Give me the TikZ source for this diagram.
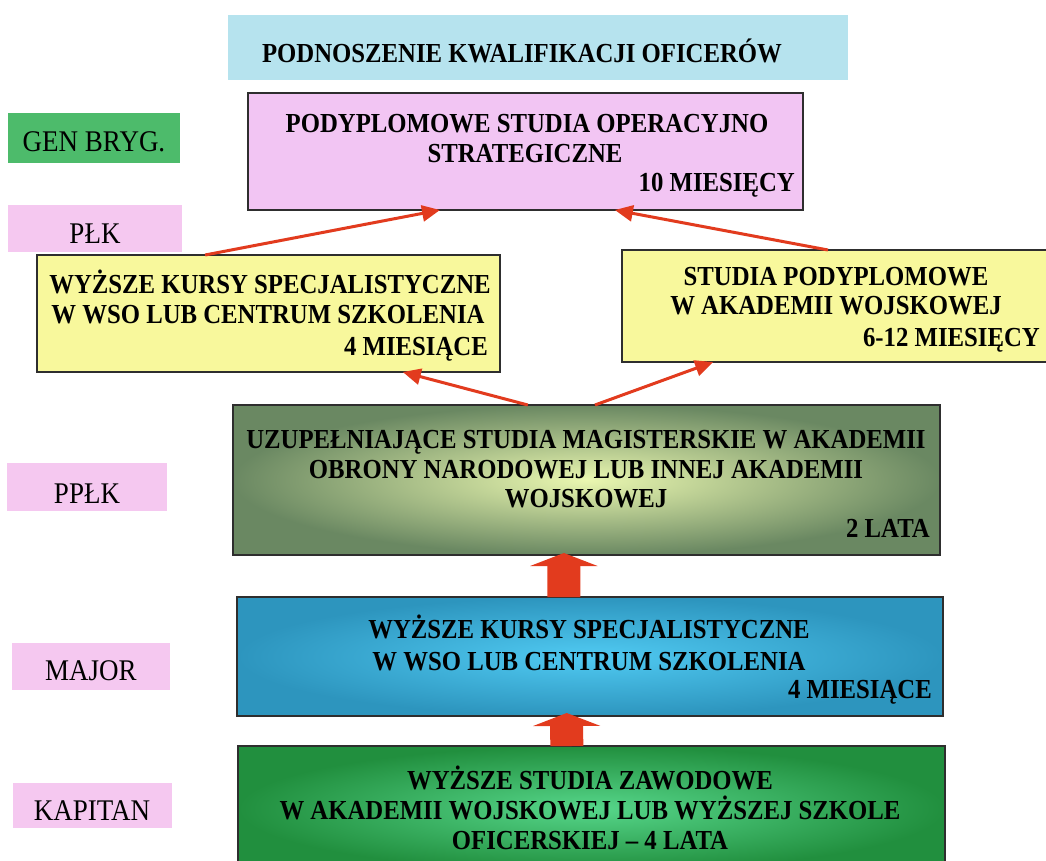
\documentclass[tikz,border=0pt]{standalone}
\usepackage{fontspec}
\setmainfont{Liberation Serif}[FakeStretch=0.9]
\usetikzlibrary{calc,arrows.meta}

\definecolor{titleblue}{HTML}{B6E3EE}
\definecolor{rankgreen}{HTML}{4DBB6B}
\definecolor{rankpink}{HTML}{F5C8F0}
\definecolor{boxpink}{HTML}{F2C5F3}
\definecolor{boxyellow}{HTML}{F8F89C}
\definecolor{ggouter}{HTML}{6A8862}
\definecolor{gginner}{HTML}{EAF7B0}
\definecolor{blueouter}{HTML}{2D95BE}
\definecolor{blueinner}{HTML}{50CAF2}
\definecolor{grnouter}{HTML}{218F3E}
\definecolor{grninner}{HTML}{56D68A}
\definecolor{arrowred}{HTML}{E23B1E}
\definecolor{edge}{HTML}{2E2E2E}

\begin{document}
\begin{tikzpicture}[x=1pt,y=-1pt,
  panel/.style={draw=edge,line width=1.2pt,inner sep=0pt,outer sep=0pt,anchor=north west},
  rank/.style={inner sep=0pt,outer sep=0pt,anchor=north west},
  btxt/.style={font=\fontsize{27.5}{30}\selectfont\bfseries,inner sep=0pt,anchor=base},
  brtxt/.style={btxt,anchor=base east},
  rtxt/.style={font=\fontsize{30}{32}\selectfont,inner sep=0pt,anchor=base},
  thinarrow/.style={draw=arrowred,line width=3pt,-{Triangle[length=18pt,width=16pt]}},
  blockarrow/.style={draw=arrowred,line width=33pt,-{Triangle[length=13pt,width=67pt]}}
]
\useasboundingbox[fill=white] (0,0) rectangle (1046,861);

% title
\node[rank,fill=titleblue,minimum width=620pt,minimum height=65pt] (title) at (228,15) {};
\node[btxt] (titletxt) at (522,63) {PODNOSZENIE KWALIFIKACJI OFICERÓW};

% rank labels
\node[rank,fill=rankgreen,minimum width=172pt,minimum height=50pt] (gen) at (8,113) {};
\node[rtxt] (gentxt) at (94,152) {GEN BRYG.};
\node[rank,fill=rankpink,minimum width=174pt,minimum height=47pt] (plk) at (8,205) {};
\node[rtxt] (plktxt) at (95,243) {PŁK};
\node[rank,fill=rankpink,minimum width=160pt,minimum height=48pt] (pplk) at (7,463) {};
\node[rtxt] (pplktxt) at (87,503) {PPŁK};
\node[rank,fill=rankpink,minimum width=158pt,minimum height=47pt] (major) at (12,643) {};
\node[rtxt] (majortxt) at (91,680) {MAJOR};
\node[rank,fill=rankpink,minimum width=159pt,minimum height=45pt] (kap) at (13,783) {};
\node[rtxt] (kaptxt) at (92,820) {KAPITAN};

% study panels
\node[panel,fill=boxpink,minimum width=555pt,minimum height=117pt] (top) at (248,93) {};
\node[btxt] (top1) at (527,133) {PODYPLOMOWE STUDIA OPERACYJNO};
\node[btxt] (top2) at (525,163) {STRATEGICZNE};
\node[brtxt] (top3) at (795,192) {10 MIESIĘCY};

\node[panel,fill=boxyellow,minimum width=463pt,minimum height=117pt] (yl) at (37,255) {};
\node[btxt] (yl1) at (270,293) {WYŻSZE KURSY SPECJALISTYCZNE};
\node[btxt] (yl2) at (268,323) {W WSO LUB CENTRUM SZKOLENIA};
\node[brtxt] (yl3) at (488,355) {4 MIESIĄCE};

\node[panel,fill=boxyellow,minimum width=430pt,minimum height=112pt] (yr) at (622,250) {};
\node[btxt] (yr1) at (836,285) {STUDIA PODYPLOMOWE};
\node[btxt] (yr2) at (836,314) {W AKADEMII WOJSKOWEJ};
\node[brtxt] (yr3) at (1040,346) {6-12 MIESIĘCY};

\node[panel,inner color=gginner,outer color=ggouter,minimum width=707pt,minimum height=150pt] (gg) at (233,405) {};
\node[btxt] (gg1) at (586,448) {UZUPEŁNIAJĄCE STUDIA MAGISTERSKIE W AKADEMII};
\node[btxt] (gg2) at (586,478) {OBRONY NARODOWEJ LUB INNEJ AKADEMII};
\node[btxt] (gg3) at (586,507) {WOJSKOWEJ};
\node[brtxt] (gg4) at (930,537) {2 LATA};

\node[panel,inner color=blueinner,outer color=blueouter,minimum width=706pt,minimum height=119pt] (blue) at (237,597) {};
\node[btxt] (blue1) at (589,638) {WYŻSZE KURSY SPECJALISTYCZNE};
\node[btxt] (blue2) at (589,670) {W WSO LUB CENTRUM SZKOLENIA};
\node[brtxt] (blue3) at (932,698) {4 MIESIĄCE};

\node[panel,inner color=grninner,outer color=grnouter,minimum width=707pt,minimum height=125pt] (bot) at (238,746) {};
\node[btxt] (bot1) at (590,789) {WYŻSZE STUDIA ZAWODOWE};
\node[btxt] (bot2) at (590,819) {W AKADEMII WOJSKOWEJ LUB WYŻSZEJ SZKOLE};
\node[btxt] (bot3) at (590,849) {OFICERSKIEJ – 4 LATA};

% progression arrows
\draw[thinarrow] ($(yl.north west)!0.363!(yl.north east)$) -- ($(top.south west)!0.346!(top.south east)$);
\draw[thinarrow] ($(yr.north west)!0.479!(yr.north east)$) -- ($(top.south west)!0.661!(top.south east)$);
\draw[thinarrow] ($(gg.north west)!0.417!(gg.north east)$) -- ($(yl.south west)!0.79!(yl.south east)$);
\draw[thinarrow] ($(gg.north west)!0.512!(gg.north east)$) -- ($(yr.south west)!0.212!(yr.south east)$);
\draw[blockarrow] ($(blue.north west)!0.463!(blue.north east)$) -- ($(gg.south west)!0.468!(gg.south east)+(0,-2)$);
\draw[blockarrow] ($(bot.north west)!0.465!(bot.north east)$) -- ($(blue.south west)!0.467!(blue.south east)+(0,-3)$);
\end{tikzpicture}
\end{document}
